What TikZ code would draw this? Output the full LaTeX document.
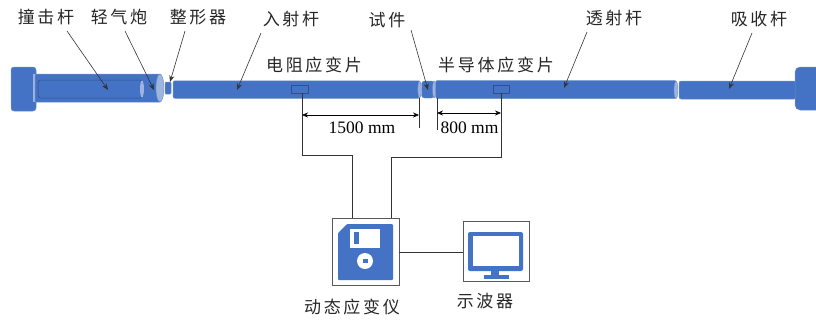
\documentclass[tikz,border=0pt]{standalone}
\usepackage{fontspec}
\setmainfont{Liberation Serif}
\newfontfamily\cjk{Noto Sans CJK SC}[LetterSpace=16]
\usetikzlibrary{arrows.meta}
\definecolor{barblue}{HTML}{4472C4}
\definecolor{baredge}{HTML}{6F8FC9}
\definecolor{barlight}{HTML}{9DB4DE}
\definecolor{inkgrey}{HTML}{333333}
\tikzset{
 x=1pt,y=-1pt,
 label/.style={font=\cjk\fontsize{17}{17}\selectfont,text=black!85,inner sep=0pt},
 bar/.style={fill=barblue,draw=baredge,line width=.5pt,rounded corners=2pt},
 endcap/.style={fill=barlight,draw=baredge,line width=.4pt},
 pointer/.style={draw=inkgrey,line width=.6pt,-{Stealth[length=6.5pt,width=5pt]}},
 wire/.style={draw=inkgrey,line width=.7pt},
 dim/.style={draw=black,line width=.6pt,{Stealth[length=6pt,width=5pt]}-{Stealth[length=6pt,width=5pt]}},
 gauge/.style={draw=barblue!70!black,fill=barblue,line width=.6pt,minimum width=17pt,minimum height=8pt,inner sep=0pt},
 devbox/.style={draw=black!65,fill=white,line width=.6pt,inner sep=0pt},
 size/.style={font=\fontsize{17.5}{18}\selectfont,inner sep=0pt}
}
\begin{document}
\begin{tikzpicture}
\useasboundingbox (0,0) rectangle (816,322);
% left flange and gun barrel
\draw[bar,rounded corners=3pt] (11,67) rectangle (36,111);
\fill[barlight] (33,74) -- (36,74) -- (36,102) -- (33,102) -- cycle;
\draw[bar,rounded corners=1pt] (35,74) rectangle (161,102);
\draw[draw=barblue!70!black,line width=.5pt,rounded corners=3pt,fill=barblue] (38,80) rectangle (143,98);
\draw[endcap,draw=none] (142,89) ellipse (2pt and 8.5pt);
\draw[endcap] (160,88) ellipse (4pt and 14pt);
% shaper
\draw[bar,rounded corners=1pt] (165,82) rectangle (171,94);
% bars
\node[bar,minimum width=247pt,minimum height=17.5pt,inner sep=0pt] (incident) at (296.5,89.5) {};
\node[bar,minimum width=241pt,minimum height=18pt,inner sep=0pt] (transmit) at (556,89.5) {};
\node[bar,minimum width=117pt,minimum height=18pt,inner sep=0pt] (absorb) at (737.5,90) {};
\node[fill=barblue,draw=baredge,line width=.4pt,rounded corners=3pt,minimum width=13pt,minimum height=17pt,inner sep=0pt] (specimen) at (428,89.5) {};
\draw[endcap] (419.5,89.5) ellipse (1.6pt and 8.5pt);
\draw[endcap] (434,89.5) ellipse (1.4pt and 8.5pt);
\draw[endcap] (676,90) ellipse (2pt and 8.5pt);
% right flange
\path[fill=barblue,draw=baredge,line width=.5pt] (816,67) [rounded corners=5pt] -- (795,67) -- (795,110) [sharp corners] -- (816,110);
% gauges
\node[gauge] (gaugeA) at (299.5,89) {};
\node[gauge,minimum width=16pt] (gaugeB) at (501,89) {};
% labels
\node[label] (lblHammer) at (46,17) {撞击杆};
\node[label] (lblGun) at (119,17) {轻气炮};
\node[label] (lblShaper) at (198,17) {整形器};
\node[label] (lblInc) at (291,19) {入射杆};
\node[label] (lblSpec) at (387,20) {试件};
\node[label] (lblTrans) at (614,18) {透射杆};
\node[label] (lblAbs) at (759,19) {吸收杆};
\node[label] (lblGaugeA) at (314,65) {电阻应变片};
\node[label] (lblGaugeB) at (496,65) {半导体应变片};
% pointer ends
\coordinate (s1) at (67,31); \coordinate (e1) at (108,90);
\coordinate (s2) at (125,31); \coordinate (e2) at (154,90);
\coordinate (s3) at (185,31); \coordinate (e3) at (170,82);
\coordinate (s4) at (261,33); \coordinate (e4) at (237,90);
\coordinate (s5) at (411,30); \coordinate (e5) at (428,90);
\coordinate (s6) at (587,32); \coordinate (e6) at (564,88);
\coordinate (s7) at (752,33); \coordinate (e7) at (729,89);
\foreach \i in {1,...,7} \draw[pointer] (s\i) -- (e\i);
% devices
\node[devbox,minimum width=67pt,minimum height=67pt] (dyn) at (365.5,251.5) {};
\node[devbox,minimum width=66pt,minimum height=60pt] (scope) at (496,251.5) {};
\node[label] (lblDyn) at (352,307) {动态应变仪};
\node[label] (lblScope) at (485,301) {示波器};
% floppy icon
\fill[barblue,rounded corners=1pt] (338,233) -- (347,224) -- (393,224) -- (393,280) -- (338,280) -- cycle;
\fill[white] (350,229) rectangle (380,248);
\fill[barblue] (354,232) rectangle (359,244);
\fill[white] (365,261) circle (8pt);
\fill[barblue] (363,259) rectangle (367.5,263);
% monitor icon
\fill[barblue,rounded corners=2pt] (468,232) rectangle (523,271);
\fill[white] (473,236) rectangle (519,266);
\fill[barblue] (491,270) rectangle (499,276);
\fill[barblue] (484,275) rectangle (509,279);
% wires
\draw[wire] (gaugeA.south) ++(2.5,0) coordinate (wa) -- (wa |- 0,155) -- (352,155) coordinate (wa2) -- (wa2 |- dyn.north);
\draw[wire] (gaugeB.south) -- (gaugeB.south |- 0,157) -- (391,157) coordinate (wb2) -- (wb2 |- dyn.north);
\draw[wire] (dyn.east |- 0,252) -- (scope.west |- 0,252);
% dimensions
\coordinate (d1a) at (302,115); \coordinate (d1b) at (419,115);
\coordinate (d2a) at (437,113); \coordinate (d2b) at (501,113);
\draw[wire] (419,98) -- (419,128);
\draw[wire] (437,98) -- (437,130);
\draw[dim] (d1a) -- (d1b);
\draw[dim] (d2a) -- (d2b);
\node[size] (dimA) at (362,127.5) {1500 mm};
\node[size] (dimB) at (469.5,127.5) {800 mm};
\end{tikzpicture}
\end{document}
